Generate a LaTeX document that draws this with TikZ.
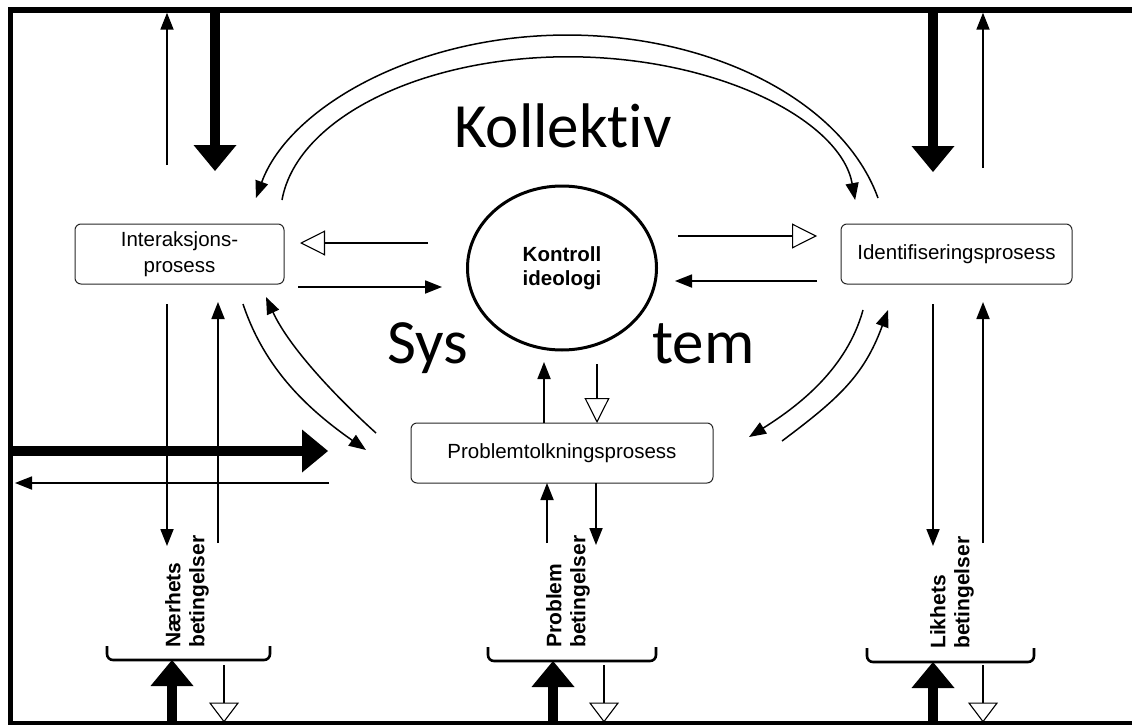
\documentclass[tikz,border=0pt]{standalone}
\usepackage{fontspec}
\setmainfont{Liberation Sans}
\newfontfamily\bigfont[Ligatures=NoCommon]{Carlito}
\usetikzlibrary{arrows.meta,shapes.geometric}

\begin{document}
\begin{tikzpicture}[x=1pt, y=-1pt,
    %Styles for boxes and arrows
    box/.style={draw=black!85, line width=1pt, rounded corners=6pt, minimum height=60pt,
        align=center, font=\fontsize{20.5pt}{26pt}\selectfont},
    arrow_thin/.style={line width=1.8pt, -{Triangle[length=17pt, width=13pt]}},
    arrow_arc/.style={line width=1.5pt, -{Triangle[length=17pt, width=13pt]}},
    arrow_open/.style={line width=1.1pt, -{Triangle[open, length=25pt, width=25pt]}},
    arrow_open_small/.style={line width=1.1pt, -{Triangle[open, length=20pt, width=30pt]}},
    arrow_heavy/.style={line width=10pt, -{Triangle[length=26pt, width=43pt, line width=0pt]}},
    bracket/.style={line width=2.6pt, rounded corners=6pt},
    frame/.style={line width=5.4pt},
    big_word/.style={font=\bigfont\fontsize{63pt}{63pt}\selectfont, inner sep=0pt, anchor=base},
    cond_label/.style={rotate=90, anchor=west, align=left, inner sep=0pt,
        font=\bfseries\fontsize{21pt}{24pt}\selectfont},
]
    \useasboundingbox (0,0) rectangle (1132,725);

    % Frame
    \coordinate (f_tr) at (1132,10);
    \coordinate (f_tl) at (10.5,10);
    \coordinate (f_bl) at (10.5,723.5);
    \coordinate (f_br) at (1132,723.5);
    \draw[frame] (f_tr) -- (f_tl) -- (f_bl) -- (f_br);

    % Processes
    \node[box, minimum width=209pt] (inter) at (179.5,254) {Interaksjons-\\prosess};
    \node[box, minimum width=231pt] (ident) at (956.5,254) {Identifiseringsprosess};
    \node[box, minimum width=302pt] (prob)  at (562,453)   {Problemtolkningsprosess};
    \node[ellipse, draw, line width=3pt, minimum width=189pt, minimum height=164pt, align=center,
        font=\bfseries\fontsize{20.5pt}{23.5pt}\selectfont] (ctrl) at (562,268) {Kontroll\\ideologi};

    % Big words
    \node[big_word] (koll) at (563,147)   {Kollektiv};
    \node[big_word] (sys)  at (428,363)   {Sys};
    \node[big_word] (tem)  at (703.5,363) {tem};

    % Free ends of the arrows
    \coordinate (i_c1) at (298,287);  \coordinate (c_i1) at (442,287);
    \coordinate (c_i2) at (428,243);  \coordinate (i_c2) at (300,243);
    \coordinate (c_d1) at (678,236);  \coordinate (d_c1) at (817,236);
    \coordinate (d_c2) at (817,281);  \coordinate (c_d2) at (675,281);
    \coordinate (p_c1) at (544,423);  \coordinate (c_p1) at (544,362);
    \coordinate (c_p2) at (597,364);  \coordinate (p_c2) at (597,423);

    % Between processes and control ideology
    \draw[arrow_thin] (i_c1) -- (c_i1);
    \draw[arrow_open] (c_i2) -- (i_c2);
    \draw[arrow_open] (c_d1) -- (d_c1);
    \draw[arrow_thin] (d_c2) -- (c_d2);
    \draw[arrow_thin] (p_c1) -- (c_p1);
    \draw[arrow_open] (c_p2) -- (p_c2);

    % Arcs around the system
    \coordinate (arc_o) at (878,198);
    \coordinate (arc_i) at (282,200);
    \draw[arrow_arc] (arc_o) arc[start angle=-13.6, end angle=-166.4, x radius=320, y radius=213];
    \draw[arrow_arc] (arc_i) arc[start angle=-174.3, end angle=-5.7, x radius=288, y radius=159];

    \coordinate (ip_s) at (243,304);  \coordinate (ip_e) at (366,450);
    \coordinate (pi_s) at (376,433);  \coordinate (pi_e) at (266,297);
    \coordinate (dp_s) at (863,310);  \coordinate (dp_e) at (749,437);
    \coordinate (pd_s) at (782,441);  \coordinate (pd_e) at (888,310);
    \draw[arrow_arc] (ip_s) .. controls (265,370) and (309,410) .. (ip_e);
    \draw[arrow_arc] (pi_s) .. controls (335,396) and (289,347) .. (pi_e);
    \draw[arrow_arc] (dp_s) .. controls (847,368) and (800,405) .. (dp_e);
    \draw[arrow_arc] (pd_s) .. controls (838,399) and (864,376) .. (pd_e);

    % Top: in and out of the frame
    \coordinate (tl_1) at (167,165);  \coordinate (tl_1t) at (167,12.7);
    \coordinate (tl_2t) at (215,10);  \coordinate (tl_2) at (215,171);
    \coordinate (tr_1t) at (933,10);  \coordinate (tr_1) at (933,172);
    \coordinate (tr_2) at (983,168);  \coordinate (tr_2t) at (983,12.7);
    \draw[arrow_thin]  (tl_1) -- (tl_1t);
    \draw[arrow_heavy] (tl_2t) -- (tl_2);
    \draw[arrow_heavy] (tr_1t) -- (tr_1);
    \draw[arrow_thin]  (tr_2) -- (tr_2t);

    % Left: in and out of the frame
    \coordinate (l_1s) at (13,451);   \coordinate (l_1) at (328,451);
    \coordinate (l_2) at (329,483);   \coordinate (l_2e) at (15,483);
    \draw[arrow_heavy] (l_1s) -- (l_1);
    \draw[arrow_thin]  (l_2) -- (l_2e);

    % Down to the conditions
    \coordinate (i_dn) at (167,304);  \coordinate (i_dne) at (167,546);
    \coordinate (i_ups) at (218,543); \coordinate (i_up) at (218,302);
    \coordinate (d_dn) at (933,304);  \coordinate (d_dne) at (933,546);
    \coordinate (d_ups) at (983,543); \coordinate (d_up) at (983,302);
    \coordinate (p_dn) at (596,483);  \coordinate (p_dne) at (596,545);
    \coordinate (p_ups) at (547,543); \coordinate (p_up) at (547,483);
    \draw[arrow_thin] (i_dn) -- (i_dne);
    \draw[arrow_thin] (i_ups) -- (i_up);
    \draw[arrow_thin] (d_dn) -- (d_dne);
    \draw[arrow_thin] (d_ups) -- (d_up);
    \draw[arrow_thin] (p_dn) -- (p_dne);
    \draw[arrow_thin] (p_ups) -- (p_up);

    % Conditions
    \node[cond_label] (near_lab) at (187,648) {Nærhets\\betingelser};
    \node[cond_label] (prob_lab) at (568,648) {Problem\\betingelser};
    \node[cond_label] (likh_lab) at (952,649) {Likhets\\betingelser};

    \draw[bracket] (107,646) -- (107,660) -- (270,660) -- (270,646);
    \draw[bracket] (488,647) -- (488,661) -- (656,661) -- (656,647);
    \draw[bracket] (867,648) -- (867,662) -- (1034,662) -- (1034,648);

    % Bottom: in and out of the frame
    \foreach \u/\d/\t [count=\n] in {172/224/660, 553/604/661, 933/983/662}{
        \coordinate (b_up\n) at (\u,726);  \coordinate (b_upe\n) at (\u,\t);
        \coordinate (b_dn\n) at (\d,665);  \coordinate (b_dne\n) at (\d,722.5);
        \draw[arrow_heavy] (b_up\n) -- (b_upe\n);
        \draw[arrow_open_small] (b_dn\n) -- (b_dne\n);
    }
\end{tikzpicture}
\end{document}
